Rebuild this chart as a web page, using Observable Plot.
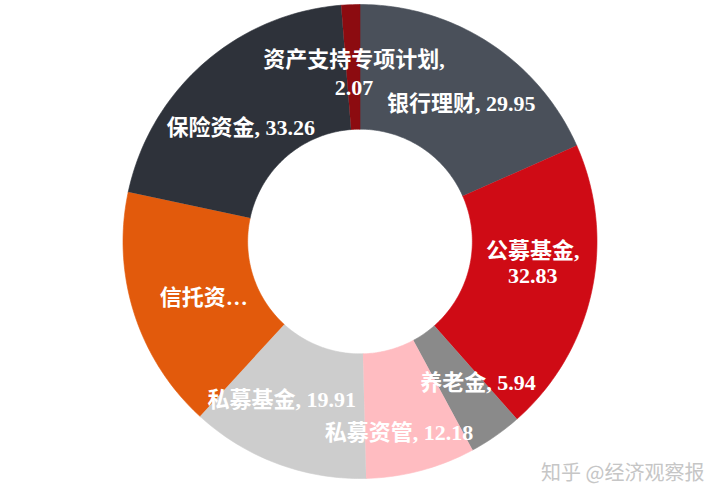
<!DOCTYPE html>
<html>
<head>
<meta charset="utf-8">
<script src="https://cdn.jsdelivr.net/npm/d3@7"></script>
<script src="https://cdn.jsdelivr.net/npm/@observablehq/plot@0.6"></script>
<style>
  html, body { margin: 0; padding: 0; background: #ffffff; }
  #chart svg { display: block; }
</style>
</head>
<body>
<div id="chart"></div>
<script>
// ---- data (clockwise from 12 o'clock) ----
const names  = ["银行理财", "公募基金", "养老金", "私募资管", "私募基金", "信托资产", "保险资金", "资产支持专项计划"];
const values = [29.95, 32.83, 5.94, 12.18, 19.91, 27.0, 33.26, 2.07];
const colors = ["#4a505a", "#cf0b15", "#8a8a8a", "#ffbcc1", "#cdcdcd", "#e25a0c", "#2e323a", "#8c0b10"];
const labels = ["银行理财, 29.95", "公募基金,\n32.83", "养老金, 5.94", "私募资管, 12.18",
                "私募基金, 19.91", "信托资…", "保险资金, 33.26", "资产支持专项计划,\n2.07"];
const watermark = "知乎 @经济观察报";

// ---- layout (kept separate from data) ----
const innerR = 0.474, outerR = 1.0;
const labelOffsets = [[6, 9], [2, -16], [18, -2], [-6, 23], [-17, -5], [10, 3], [-4, 18], [1, 5]];
const labelLineHeights = [1, 1.15, 1, 1, 1, 1, 1, 1.28];

const total = d3.sum(values);
const cum = d3.cumsum(values);

const polyRows = [];
const centroids = [];
names.forEach((name, i) => {
  const a0 = ((cum[i] - values[i]) / total) * 2 * Math.PI;
  const a1 = (cum[i] / total) * 2 * Math.PI;
  const n = Math.max(2, Math.ceil((a1 - a0) / (Math.PI / 180)));
  for (let k = 0; k <= n; k++) {
    const a = a0 + (a1 - a0) * k / n;
    polyRows.push({name, x: outerR * Math.sin(a), y: outerR * Math.cos(a)});
  }
  for (let k = n; k >= 0; k--) {
    const a = a0 + (a1 - a0) * k / n;
    polyRows.push({name, x: innerR * Math.sin(a), y: innerR * Math.cos(a)});
  }
  const am = (a0 + a1) / 2, rm = (innerR + outerR) / 2;
  centroids.push({name, x: rm * Math.sin(am), y: rm * Math.cos(am), label: labels[i]});
});

const labelFont = "'Liberation Serif', 'Noto Sans CJK SC', serif";

const textMarks = centroids.map((c, i) => Plot.text([c], {
  x: "x", y: "y", text: "label",
  dx: labelOffsets[i][0], dy: labelOffsets[i][1],
  lineHeight: labelLineHeights[i],
  fill: "#ffffff", fontSize: 22, fontWeight: "bold",
  fontFamily: labelFont, textAnchor: "middle"
}));

const chart = Plot.plot({
  width: 724,
  height: 500,
  margin: 0,
  x: {domain: [-1.5169, 1.5380], axis: null},
  y: {domain: [-1.0928, 1.0169], axis: null},
  color: {domain: names, range: colors},
  style: {background: "#ffffff"},
  marks: [
    Plot.line(polyRows, {x: "x", y: "y", z: "name", fill: "name", stroke: "name", strokeWidth: 0.6, curve: "linear"}),
    ...textMarks,
    Plot.text([watermark], {
      frameAnchor: "bottom-right", dx: -20, dy: -21,
      text: d => d, fill: "#c6c6c6", fontSize: 20,
      fontFamily: "'Noto Sans CJK SC', sans-serif", textAnchor: "end"
    })
  ]
});
document.getElementById("chart").appendChild(chart);
</script>
</body>
</html>
